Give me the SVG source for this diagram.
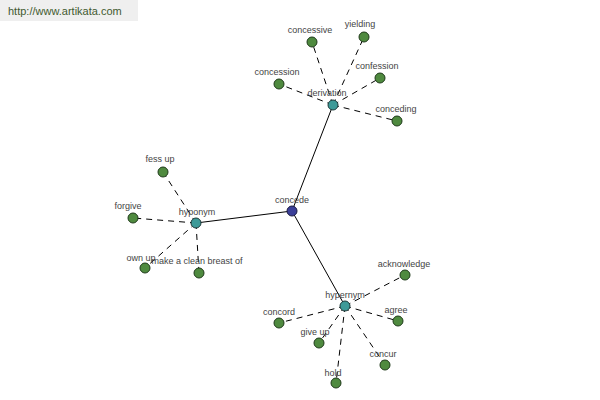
<svg xmlns="http://www.w3.org/2000/svg" width="600" height="400" viewBox="0 0 600 400">
<style>
.t{font-family:"Liberation Sans",Arial,sans-serif;font-size:9px;fill:#444;text-anchor:middle}
.leaf{fill:#4f8a3f;stroke:#1f3a1a;stroke-width:1}
.hub{fill:#3d9a98;stroke:#1d3a3a;stroke-width:1}
.root{fill:#3b3f98;stroke:#1a1a40;stroke-width:1}
.s{stroke:#000;stroke-width:1;fill:none}
.d{stroke:#000;stroke-width:1;fill:none;stroke-dasharray:6,5}
</style>
<rect x="0" y="0" width="600" height="400" fill="#fff"/>
<rect x="0" y="0" width="138" height="21" fill="#efefef"/>
<text x="8" y="15" style="font-family:'Liberation Sans',Arial,sans-serif;font-size:11px;fill:#3f5a2f">http://www.artikata.com</text>
<g id="connectors">
<line class="s" x1="292" y1="211" x2="333" y2="105"/>
<line class="s" x1="292" y1="211" x2="196" y2="223"/>
<line class="s" x1="292" y1="211" x2="345" y2="306"/>
<line class="d" x1="333" y1="105" x2="312" y2="42"/>
<line class="d" x1="333" y1="105" x2="364" y2="37"/>
<line class="d" x1="333" y1="105" x2="380" y2="78"/>
<line class="d" x1="333" y1="105" x2="279" y2="84"/>
<line class="d" x1="333" y1="105" x2="397" y2="121"/>
<line class="d" x1="196" y1="223" x2="163" y2="172"/>
<line class="d" x1="196" y1="223" x2="133" y2="218"/>
<line class="d" x1="196" y1="223" x2="145" y2="268"/>
<line class="d" x1="196" y1="223" x2="199" y2="273"/>
<line class="d" x1="345" y1="306" x2="405" y2="275"/>
<line class="d" x1="345" y1="306" x2="279" y2="323"/>
<line class="d" x1="345" y1="306" x2="398" y2="321"/>
<line class="d" x1="345" y1="306" x2="319" y2="343"/>
<line class="d" x1="345" y1="306" x2="385" y2="365"/>
<line class="d" x1="345" y1="306" x2="336" y2="383"/>
</g>
<g id="concede"><circle class="root" cx="292" cy="211" r="5"/><text class="t" x="292" y="203">concede</text></g>
<g id="derivation"><circle class="hub" cx="333" cy="105" r="5"/><text class="t" x="327" y="96">derivation</text></g>
<g id="hyponym"><circle class="hub" cx="196" cy="223" r="5"/><text class="t" x="197" y="215">hyponym</text></g>
<g id="hypernym"><circle class="hub" cx="345" cy="306" r="5"/><text class="t" x="345" y="298">hypernym</text></g>
<g id="concessive"><circle class="leaf" cx="312" cy="42" r="5"/><text class="t" x="310" y="33">concessive</text></g>
<g id="yielding"><circle class="leaf" cx="364" cy="37" r="5"/><text class="t" x="360" y="27">yielding</text></g>
<g id="confession"><circle class="leaf" cx="380" cy="78" r="5"/><text class="t" x="377" y="69">confession</text></g>
<g id="concession"><circle class="leaf" cx="279" cy="84" r="5"/><text class="t" x="277" y="75">concession</text></g>
<g id="conceding"><circle class="leaf" cx="397" cy="121" r="5"/><text class="t" x="396" y="112">conceding</text></g>
<g id="fess-up"><circle class="leaf" cx="163" cy="172" r="5"/><text class="t" x="160" y="162">fess up</text></g>
<g id="forgive"><circle class="leaf" cx="133" cy="218" r="5"/><text class="t" x="128" y="209">forgive</text></g>
<g id="own-up"><circle class="leaf" cx="145" cy="268" r="5"/><text class="t" x="141" y="261">own up</text></g>
<g id="make-a-clean-breast-of"><circle class="leaf" cx="199" cy="273" r="5"/><text class="t" x="197" y="264">make a clean breast of</text></g>
<g id="acknowledge"><circle class="leaf" cx="405" cy="275" r="5"/><text class="t" x="404" y="267">acknowledge</text></g>
<g id="concord"><circle class="leaf" cx="279" cy="323" r="5"/><text class="t" x="279" y="315">concord</text></g>
<g id="agree"><circle class="leaf" cx="398" cy="321" r="5"/><text class="t" x="396" y="313">agree</text></g>
<g id="give-up"><circle class="leaf" cx="319" cy="343" r="5"/><text class="t" x="315" y="335">give up</text></g>
<g id="concur"><circle class="leaf" cx="385" cy="365" r="5"/><text class="t" x="383" y="357">concur</text></g>
<g id="hold"><circle class="leaf" cx="336" cy="383" r="5"/><text class="t" x="333" y="376">hold</text></g>
</svg>
